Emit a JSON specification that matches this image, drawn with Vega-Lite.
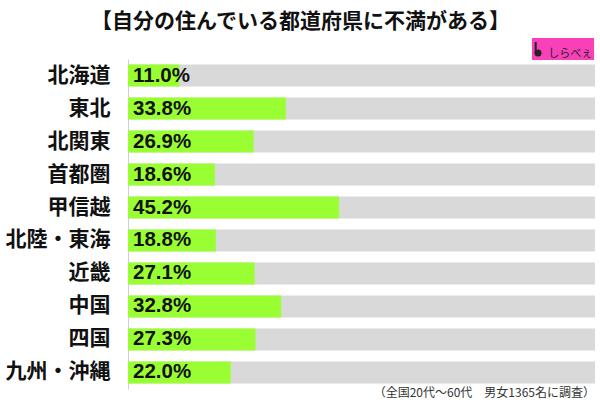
{
  "$schema": "https://vega.github.io/schema/vega-lite/v6.json",
  "description": "Share dissatisfied with their home prefecture, by region.",
  "width": 467,
  "height": 330,
  "autosize": "none",
  "padding": {"left": 128, "top": 59, "right": 5, "bottom": 11},
  "background": "white",
  "title": {
    "text": "【自分の住んでいる都道府県に不満がある】",
    "font": "Noto Sans CJK JP",
    "fontSize": 21,
    "fontWeight": "bold",
    "color": "#111111",
    "anchor": "middle",
    "dx": -61,
    "offset": 6
  },
  "config": {"view": {"stroke": null}},
  "datasets": {
    "regions": [
      {"region": "北海道", "pct": 0.11},
      {"region": "東北", "pct": 0.338},
      {"region": "北関東", "pct": 0.269},
      {"region": "首都圏", "pct": 0.186},
      {"region": "甲信越", "pct": 0.452},
      {"region": "北陸・東海", "pct": 0.188},
      {"region": "近畿", "pct": 0.271},
      {"region": "中国", "pct": 0.328},
      {"region": "四国", "pct": 0.273},
      {"region": "九州・沖縄", "pct": 0.22}
    ],
    "logo": [{"x0": 0.865, "x1": 0.998, "y0": -21, "y1": 1, "icon": 0.878, "stem": 0.873, "iconY": -6, "stemTop": -17, "textX": 0.9, "textY": -5, "name": "しらべぇ"}],
    "note": [{"x": 1.0, "y": 333.5, "note": "（全国20代～60代　男女1365名に調査）"}]
  },
  "layer": [
    {
      "layer": [
        {
          "data": {"name": "regions"},
          "mark": {"type": "bar", "color": "#D9D9D9"},
          "encoding": {
            "y": {
              "field": "region",
              "type": "nominal",
              "sort": null,
              "scale": {"paddingInner": 0.333, "paddingOuter": 0.17},
              "axis": {
                "title": null,
                "domainColor": "#D0D0D0",
                "ticks": false,
                "labelFont": "Noto Sans CJK JP",
                "labelFontSize": 21,
                "labelFontWeight": "bold",
                "labelColor": "#111111",
                "labelPadding": 18,
                "labelLimit": 130
              }
            },
            "x": {"datum": 1, "type": "quantitative", "scale": {"domain": [0, 1]}, "axis": null}
          }
        },
        {
          "data": {"name": "regions"},
          "mark": {"type": "bar", "color": "#99FF33"},
          "encoding": {
            "y": {"field": "region", "type": "nominal", "sort": null},
            "x": {"field": "pct", "type": "quantitative"}
          }
        },
        {
          "data": {"name": "regions"},
          "mark": {"type": "text", "align": "left", "baseline": "middle", "dx": 5, "font": "Liberation Sans", "fontSize": 20.5, "fontWeight": "bold", "color": "#111111"},
          "encoding": {
            "y": {"field": "region", "type": "nominal", "sort": null},
            "x": {"datum": 0, "type": "quantitative"},
            "text": {"field": "pct", "type": "quantitative", "format": ".1%"}
          }
        }
      ]
    },
    {
      "layer": [
        {
          "data": {"name": "logo"},
          "mark": {"type": "rect", "color": "#F840B8"},
          "encoding": {
            "x": {"field": "x0", "type": "quantitative"},
            "x2": {"field": "x1"},
            "y": {"field": "y0", "type": "quantitative", "scale": {"domain": [0, 330], "range": [0, 330]}, "axis": null},
            "y2": {"field": "y1"}
          }
        },
        {
          "data": {"name": "logo"},
          "mark": {"type": "point", "filled": true, "size": 50, "color": "#222222", "opacity": 1},
          "encoding": {
            "x": {"field": "icon", "type": "quantitative"},
            "y": {"field": "iconY", "type": "quantitative", "scale": {"domain": [0, 330], "range": [0, 330]}, "axis": null}
          }
        },
        {
          "data": {"name": "logo"},
          "mark": {"type": "rule", "color": "#222222", "strokeWidth": 2},
          "encoding": {
            "x": {"field": "stem", "type": "quantitative"},
            "y": {"field": "stemTop", "type": "quantitative", "scale": {"domain": [0, 330], "range": [0, 330]}, "axis": null},
            "y2": {"field": "iconY"}
          }
        },
        {
          "data": {"name": "logo"},
          "mark": {"type": "text", "align": "left", "baseline": "middle", "font": "Noto Sans CJK JP", "fontSize": 11, "color": "#222222"},
          "encoding": {
            "x": {"field": "textX", "type": "quantitative"},
            "y": {"field": "textY", "type": "quantitative", "scale": {"domain": [0, 330], "range": [0, 330]}, "axis": null},
            "text": {"field": "name"}
          }
        },
        {
          "data": {"name": "note"},
          "mark": {"type": "text", "align": "right", "baseline": "middle", "font": "Noto Sans CJK JP", "fontSize": 12, "color": "#333333"},
          "encoding": {
            "x": {"field": "x", "type": "quantitative"},
            "y": {"field": "y", "type": "quantitative", "scale": {"domain": [0, 330], "range": [0, 330]}, "axis": null},
            "text": {"field": "note"}
          }
        }
      ]
    }
  ],
  "resolve": {"scale": {"y": "independent"}}
}
